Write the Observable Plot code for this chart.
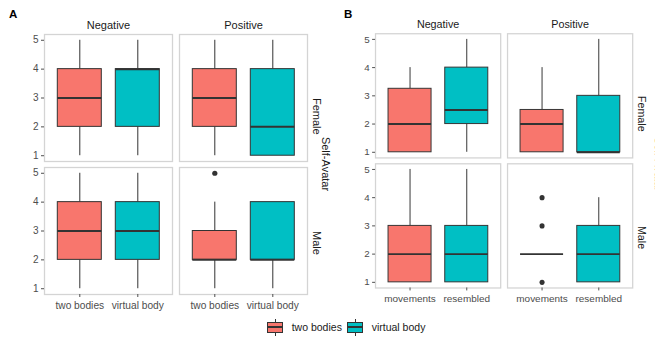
<!DOCTYPE html>
<html>
<head>
<meta charset="utf-8">
<script src="https://cdn.jsdelivr.net/npm/d3@7"></script>
<script src="https://cdn.jsdelivr.net/npm/@observablehq/plot@0.6"></script>
<style>
  html, body { margin: 0; padding: 0; background: #fff; }
  body { font-family: "Liberation Sans", Arial, sans-serif; }
  #wrap { position: relative; width: 655px; height: 339px; overflow: hidden; background: #fff; }
  .panel { position: absolute; top: 0; }
  .tag { position: absolute; font-weight: bold; font-size: 11.5px; line-height: 11px; color: #000; }
  .outer { position: absolute; font-size: 11px; color: #1a1a1a; white-space: nowrap;
           transform: translate(-50%, -50%) rotate(90deg); line-height: 11px; }
  .key { position: absolute; box-sizing: border-box; border: 1px solid #333; width: 16px; height: 11px; }
  .key .med { position: absolute; left: 0; right: 0; top: 3.7px; height: 1.6px; background: #333; }
  .stub { position: absolute; width: 1px; height: 3px; background: #333; }
  .ltxt { position: absolute; font-size: 10.5px; line-height: 12px; color: #1a1a1a; white-space: nowrap; }
</style>
</head>
<body>
<div id="wrap">
  <div class="tag" style="left:9px;top:9px">A</div>
  <div class="tag" style="left:344px;top:9px">B</div>
  <div id="plotA" class="panel" style="left:0px"></div>
  <div id="plotB" class="panel" style="left:332.3px"></div>
  <div class="outer" style="left:325px;top:164px">Self-Avatar</div>
  <div class="outer" style="left:658.4px;top:164px">Self-Avatar</div>
  <div id="legend"></div>
</div>
<script>
// facet layout of the 8 boxes per panel (in order)
const valences = ["Negative", "Positive"];
const genders = ["Female", "Male"];
const boxValence = ["Negative", "Negative", "Positive", "Positive", "Negative", "Negative", "Positive", "Positive"];
const boxGender  = ["Female", "Female", "Female", "Female", "Male", "Male", "Male", "Male"];
const boxGroup   = [0, 1, 0, 1, 0, 1, 0, 1];
const palette = ["#F8766D", "#00BFC4"];

// Panel A
const conditionsA = ["two bodies", "virtual body"];
const lowA  = [1, 1, 1, 1, 1, 1, 1, 1];
const q1A   = [2, 2, 2, 1, 2, 2, 2, 2];
const medA  = [3, 4, 3, 2, 3, 3, 2, 2];
const q3A   = [4, 4, 4, 4, 4, 4, 3, 4];
const highA = [5, 5, 5, 5, 5, 5, 4, 4];
const outValenceA = ["Positive"];
const outGenderA  = ["Male"];
const outGroupA   = [0];
const outValueA   = [5];

// Panel B
const conditionsB = ["movements", "resembled"];
const lowB  = [1, 1, 1, 1, 1, 1, 2, 1];
const q1B   = [1, 2, 1, 1, 1, 1, 2, 1];
const medB  = [2, 2.5, 2, 1, 2, 2, 2, 2];
const q3B   = [3.25, 4, 2.5, 3, 3, 3, 2, 3];
const highB = [4, 5, 4, 5, 5, 5, 2, 4];
const outValenceB = ["Positive", "Positive", "Positive"];
const outGenderB  = ["Male", "Male", "Male"];
const outGroupB   = [0, 0, 0];
const outValueB   = [1, 3, 4];

const yTicks = [1, 2, 3, 4, 5];

function drawPanel(conds, low, q1, med, q3, high, oV, oG, oC, oY) {
  const rows = boxValence.map((v, i) => ({
    fx: v, fy: boxGender[i], cond: conds[boxGroup[i]],
    low: low[i], q1: q1[i], med: med[i], q3: q3[i], high: high[i]
  }));
  const outs = oV.map((v, i) => ({fx: v, fy: oG[i], cond: conds[oC[i]], y: oY[i]}));
  const f = {fx: "fx", fy: "fy"};
  return Plot.plot({
    width: 330, height: 339,
    marginTop: 33.3, marginBottom: 44, marginLeft: 42.7, marginRight: 22.7,
    facet: {marginTop: 0, marginRight: 0, marginBottom: 0, marginLeft: 0},
    fx: {domain: valences, range: [42.7, 307.3], paddingInner: 0.052, paddingOuter: 0, label: null},
    fy: {domain: genders, range: [33.3, 295], paddingInner: 0.047, paddingOuter: 0, label: null},
    x: {domain: conds, paddingInner: 0.25, paddingOuter: 0.225, label: null},
    y: {domain: [0.8, 5.2], label: null},
    color: {domain: conds, range: palette},
    style: {fontFamily: "'Liberation Sans', Arial, sans-serif", fontSize: "10px", background: "transparent", color: "#1a1a1a"},
    marks: [
      Plot.frame({stroke: "#d4d4d4", strokeWidth: 1.3}),
      Plot.ruleX(rows, {...f, x: "cond", y1: "low", y2: "q1", stroke: "#333", strokeWidth: 1}),
      Plot.ruleX(rows, {...f, x: "cond", y1: "q3", y2: "high", stroke: "#333", strokeWidth: 1}),
      Plot.barY(rows, {...f, x: "cond", y1: "q1", y2: "q3", fill: "cond", stroke: "#333", strokeWidth: 1}),
      Plot.tickY(rows, {...f, x: "cond", y: "med", stroke: "#333", strokeWidth: 2}),
      Plot.dot(outs, {...f, x: "cond", y: "y", r: 2.6, fill: "#333", stroke: null}),
      Plot.axisY({ticks: yTicks, tickFormat: "d", tickSize: 3, tickPadding: 3, fontSize: 10, color: "#4d4d4d", label: null}),
      Plot.axisX({tickSize: 3, tickPadding: 4, fontSize: 10.2, color: "#4d4d4d", label: null}),
      Plot.axisFx({anchor: "top", tickSize: 0, tickPadding: 6, fontSize: 11, color: "#1a1a1a", label: null}),
      Plot.axisFy({anchor: "right", tickSize: 0, tickPadding: 9.4, rotate: 90, fontSize: 11, color: "#1a1a1a", label: null})
    ]
  });
}

document.getElementById("plotA").append(
  drawPanel(conditionsA, lowA, q1A, medA, q3A, highA, outValenceA, outGenderA, outGroupA, outValueA));
document.getElementById("plotB").append(
  drawPanel(conditionsB, lowB, q1B, medB, q3B, highB, outValenceB, outGenderB, outGroupB, outValueB));

// legend
const legendLabels = ["two bodies", "virtual body"];
const legendKeyX = [267.3, 347.3];
const legendTextX = [291.7, 371.7];
const lg = document.getElementById("legend");
legendLabels.forEach((lab, i) => {
  const cx = legendKeyX[i] + 7.5;
  lg.insertAdjacentHTML("beforeend",
    `<div class="stub" style="left:${cx}px;top:318.5px"></div>` +
    `<div class="key" style="left:${legendKeyX[i]}px;top:321.5px;background:${palette[i]}"><div class="med"></div></div>` +
    `<div class="stub" style="left:${cx}px;top:332.5px"></div>` +
    `<div class="ltxt" style="left:${legendTextX[i]}px;top:320.7px">${lab}</div>`);
});
</script>
</body>
</html>
